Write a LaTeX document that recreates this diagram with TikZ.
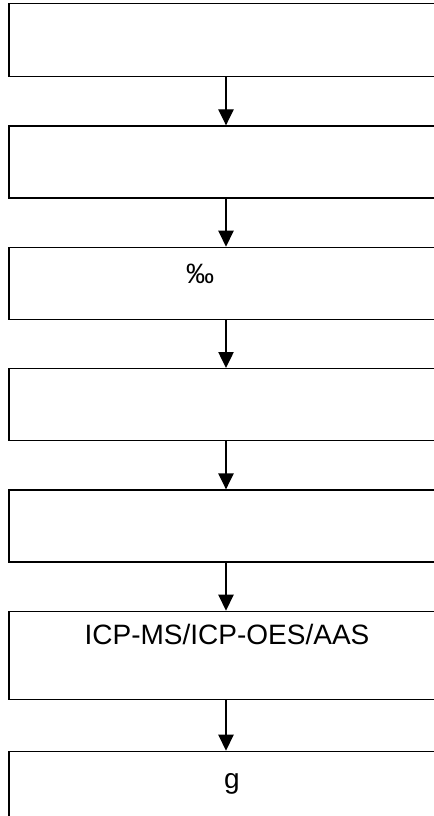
\documentclass[tikz,border=0pt]{standalone}
\usepackage{fontspec}
\setmainfont{Liberation Sans}
\usetikzlibrary{positioning, arrows.meta}
\tikzstyle{process} = [rectangle, minimum width=325.5pt, minimum height=54pt, draw=black, line width=1pt, inner sep=0pt]
\tikzstyle{tall} = [process, minimum height=66pt]
\tikzstyle{label} = [anchor=base, inner sep=0pt, font=\fontsize{21}{25}\selectfont]
\tikzstyle{arrow} = [line width=1pt, -{Triangle[length=12pt, width=11.5pt]}]

\begin{document}
\begin{tikzpicture}[node distance=36pt]
            \useasboundingbox (0,0) rectangle (325.5pt,-612pt);
            \clip (0,0) rectangle (325.5pt,-612pt);
            \node (proc1) [process, anchor=north, minimum height=54.75pt] at (169.5pt,-2.25pt) {};
            \node (proc2) [process, below=of proc1] {};
            \node (proc3) [process, below=of proc2] {};
            \node (proc4) [process, below=of proc3] {};
            \node (proc5) [process, below=of proc4] {};
            \node (proc6) [tall, below=of proc5] {};
            \node (proc7) [tall, below=38pt of proc6] {};

            \node (ratio) [label] at ([xshift=-19.5pt, yshift=-27.75pt]proc3.north) {‰};
            \node (instr) [label] at ([xshift=0.75pt, yshift=-25.5pt]proc6.north) {ICP-MS/ICP-OES/AAS};
            \node (mass) [label] at ([xshift=4.5pt, yshift=-28.5pt]proc7.north) {g};

            \draw [arrow] (proc1) -- (proc2);
            \draw [arrow] (proc2) -- (proc3);
            \draw [arrow] (proc3) -- (proc4);
            \draw [arrow] (proc4) -- (proc5);
            \draw [arrow] (proc5) -- (proc6);
            \draw [arrow] (proc6) -- (proc7);
        \end{tikzpicture}
\end{document}
